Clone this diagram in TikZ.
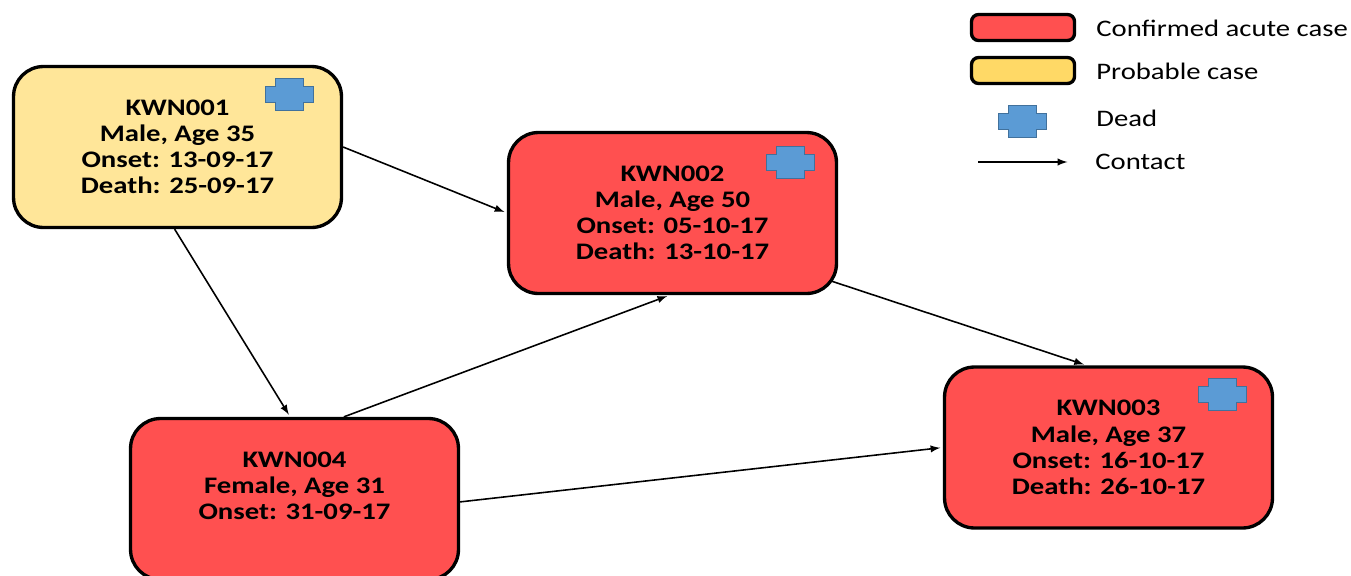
\documentclass[tikz,border=0pt]{standalone}
\usepackage{fontspec}
\setmainfont[FakeStretch=1.21]{Carlito}
\definecolor{caseRed}{HTML}{FF5050}
\definecolor{caseYellow}{HTML}{FFE699}
\definecolor{keyYellow}{HTML}{FFD966}
\definecolor{deadBlue}{HTML}{5B9BD5}
\definecolor{deadEdge}{HTML}{41719C}
\tikzset{
  casebox/.style={draw,line width=1.9pt,rounded corners=0.6cm,minimum width=6.56cm,minimum height=3.22cm,
    align=center,font=\fontsize{13.5}{14.9}\selectfont\bfseries},
  keybox/.style={draw,line width=1.9pt,rounded corners=0.14cm,minimum width=2.06cm,minimum height=0.52cm},
  keytext/.style={anchor=west,inner sep=0pt,font=\fontsize{13.5}{14.8}\selectfont},
  contact/.style={->,>=latex,line width=0.9pt,shorten >=1.5pt},
  dead/.pic={
    \draw[fill=deadBlue,draw=deadEdge,line width=0.5pt]
      (-24,-8)--(-14,-8)--(-14,-16)--(14,-16)--(14,-8)--(24,-8)--(24,8)--(14,8)--(14,16)--(-14,16)--(-14,8)--(-24,8)--cycle;
  }
}
\begin{document}
\begin{tikzpicture}[x=0.02cm,y=-0.02cm]
  \useasboundingbox (0,0) rectangle (1351,575);

  \node[casebox,fill=caseYellow] (kwn1) at (177.5,147) {KWN001\\Male, Age 35\\Onset: 13-09-17\\Death: 25-09-17};
  \node[casebox,fill=caseRed] (kwn2) at (672.5,213) {KWN002\\Male, Age 50\\Onset: 05-10-17\\Death: 13-10-17};
  \node[casebox,fill=caseRed] (kwn3) at (1108.5,447.5) {KWN003\\Male, Age 37\\Onset: 16-10-17\\Death: 26-10-17};
  \node[casebox,fill=caseRed] (kwn4) at (294.5,499) {KWN004\\Female, Age 31\\Onset: 31-09-17\\~};

  \pic at (289,94) {dead};
  \pic at (790,162) {dead};
  \pic at (1222,394) {dead};

  \draw[contact] (kwn1.east)--(kwn2.west);
  \draw[contact] (kwn1.-92)--(kwn4.93);
  \draw[contact] (kwn4.59)--(kwn2.-92);
  \draw[contact,shorten <=-4pt] (kwn2.-23.5)--(kwn3.105.5);
  \draw[contact] (kwn4.-1)--(kwn3.west);

  % key
  \node[keybox,fill=caseRed] (keyred) at (1023,27.5) {};
  \node[keybox,fill=keyYellow] (keyyellow) at (1023,70.5) {};
  \pic at (1022.5,121.5) {dead};
  \coordinate (keyfrom) at (978,162);
  \coordinate (keyto) at (1070,162);
  \draw[contact] (keyfrom)--(keyto);
  \node[keytext] (keyconfirmed) at (1096,28) {Confirmed acute case};
  \node[keytext] (keyprobable) at (1096,71) {Probable case};
  \node[keytext] (keydead) at (1096,118) {Dead};
  \node[keytext] (keycontact) at (1095,162) {Contact};
\end{tikzpicture}
\end{document}
